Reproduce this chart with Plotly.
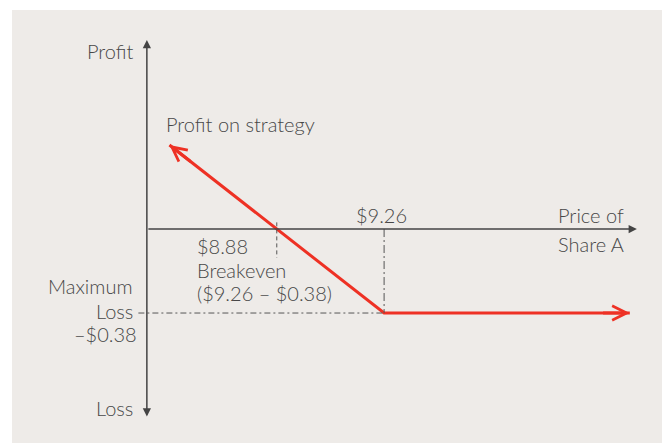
import plotly.graph_objects as go

# ---- data ----
strike = 9.26
premium = 0.38
breakeven = 8.88
price_pts = [8.50, 9.26, 10.13]          # share price at line vertices
profit_pts = [0.38, -0.38, -0.38]         # profit on strategy (long put)
axis_origin_x = 8.42
axis_end_x = 10.155
axis_top_y = 0.855
axis_bot_y = -0.855

TXT = "#474747"
AX = "#444444"
RED = "#EE3124"
FONT = "Lato"
FS = 20

fig = go.Figure()

fig.add_trace(go.Scatter(x=price_pts, y=profit_pts, mode="lines",
                         line=dict(color=RED, width=3), hoverinfo="skip",
                         showlegend=False))

shapes = [
    dict(type="rect", xref="paper", yref="paper", x0=12/662, x1=1, y0=0, y1=1-10/443,
         fillcolor="#EEEBE8", line=dict(width=0), layer="below"),
    dict(type="line", x0=strike, x1=strike, y0=0, y1=-premium,
         line=dict(color="#555555", width=1, dash="8px,3px,2px,3px")),
    dict(type="line", x0=axis_origin_x - 0.03, x1=strike, y0=-premium, y1=-premium,
         line=dict(color="#555555", width=1, dash="6px,3px,2px,3px")),
    dict(type="line", x0=breakeven, x1=breakeven, y0=0.03, y1=-0.13,
         line=dict(color="#555555", width=1, dash="4px,3px")),
]

ann = []
ann.append(dict(x=axis_end_x, y=0, ax=axis_origin_x, ay=0, xref="x", yref="y",
                axref="x", ayref="y", text="", showarrow=True, arrowhead=2,
                arrowwidth=1.5, arrowsize=1.1, arrowcolor=AX, standoff=0))
ann.append(dict(x=axis_origin_x, y=axis_top_y, ax=axis_origin_x, ay=axis_bot_y,
                xref="x", yref="y", axref="x", ayref="y", text="", showarrow=True,
                arrowhead=2, startarrowhead=2, arrowside="end+start",
                arrowwidth=1.5, arrowsize=1.1, startarrowsize=1.1,
                arrowcolor=AX, standoff=0, startstandoff=0))
ann.append(dict(x=price_pts[0], y=profit_pts[0],
                ax=price_pts[0] + 0.08, ay=profit_pts[0] - 0.08,
                xref="x", yref="y", axref="x", ayref="y", text="", showarrow=True,
                arrowhead=5, arrowwidth=3, arrowsize=0.95, arrowcolor=RED, standoff=0))
ann.append(dict(x=price_pts[-1], y=profit_pts[-1],
                ax=price_pts[-1] - 0.1, ay=profit_pts[-1],
                xref="x", yref="y", axref="x", ayref="y", text="", showarrow=True,
                arrowhead=5, arrowwidth=3, arrowsize=0.95, arrowcolor=RED, standoff=0))


def px_x(p):
    return p / 662


def px_y(p):
    return 1 - p / 443


def label(text, x, y, xanchor):
    ann.append(dict(text=text, xref="paper", yref="paper", x=px_x(x), y=px_y(y),
                    xanchor=xanchor, yanchor="middle", showarrow=False,
                    font=dict(family=FONT, size=FS, color=TXT, weight=300)))


label("Profit", 136, 51, "right")
label("Profit on strategy", 164, 124, "left")
label("$9.26", 381.5, 215, "center")
label("Price of", 626, 215, "right")
label("Share A", 626, 244, "right")
label("$8.88", 195, 246, "left")
label("Breakeven", 195, 270, "left")
label("($9.26 – $0.38)", 195, 293, "left")
label("Maximum", 135, 286, "right")
label("Loss", 135, 311, "right")
label("–$0.38", 139, 334, "right")
label("Loss", 135, 408, "right")

fig.update_layout(
    width=662, height=443,
    margin=dict(l=0, r=0, t=0, b=0),
    paper_bgcolor="white", plot_bgcolor="rgba(0,0,0,0)",
    xaxis=dict(range=[7.900, 10.244], visible=False, fixedrange=True),
    yaxis=dict(range=[-0.968, 1.036], visible=False, fixedrange=True),
    shapes=shapes, annotations=ann, showlegend=False,
)

fig.write_html("out.html", config={"displayModeBar": False, "staticPlot": True},
               post_script="document.body.style.margin='0';document.body.style.overflow='hidden';")
